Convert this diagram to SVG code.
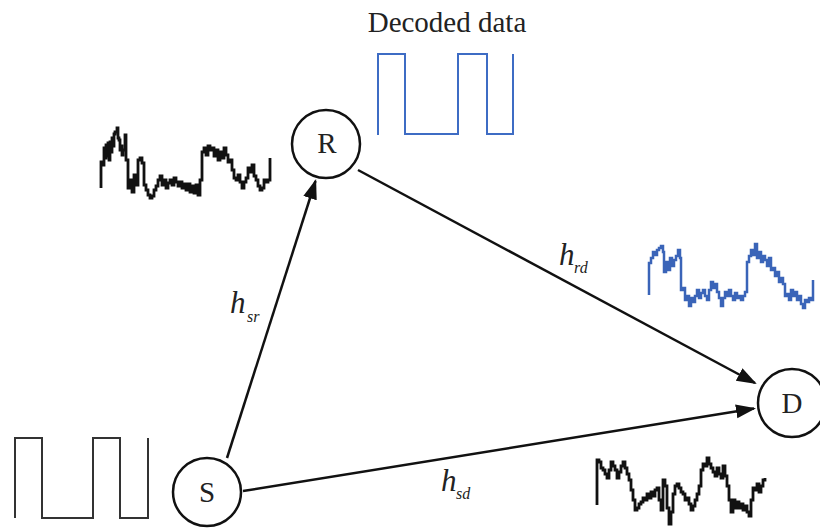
<svg xmlns="http://www.w3.org/2000/svg" width="820" height="529" viewBox="0 0 820 529">
<style>
.node{fill:#fff;stroke:#111;stroke-width:2.5}
.lbl{font-family:"Liberation Serif",serif;font-size:29px;fill:#222;text-anchor:middle}
.conn{stroke:#111;stroke-width:2.5;fill:none}
.h{font-family:"Liberation Serif",serif;font-style:italic;fill:#222}
.wb{fill:none;stroke:#111;stroke-width:2.8;stroke-linejoin:miter}
.wblue{fill:none;stroke:#3a64b8;stroke-width:2.5}
.sq{fill:none;stroke:#333;stroke-width:2}
.sqb{fill:none;stroke:#3e6cc4;stroke-width:2}
</style>
<defs>
<marker id="arr" markerUnits="userSpaceOnUse" markerWidth="22" markerHeight="16" refX="18" refY="7" orient="auto">
<path d="M0,0 L20,7 L0,14 z" fill="#111"/>
</marker>
</defs>
<rect width="820" height="529" fill="#fff"/>

<g id="connectors">
<line class="conn" x1="227" y1="458" x2="315.5" y2="181" marker-end="url(#arr)"/>
<line class="conn" x1="358" y1="170" x2="755" y2="383" marker-end="url(#arr)"/>
<line class="conn" x1="243" y1="491" x2="754" y2="408.5" marker-end="url(#arr)"/>
</g>

<g id="labels">
<text class="h" x="230" y="313" font-size="31">h</text><text class="h" x="247" y="322" font-size="16">sr</text>
<text class="h" x="559" y="265" font-size="31">h</text><text class="h" x="574" y="273" font-size="16">rd</text>
<text class="h" x="441" y="491" font-size="31">h</text><text class="h" x="456" y="499" font-size="16">sd</text>
</g>

<g id="node-R"><circle class="node" cx="326" cy="144" r="34"/><text class="lbl" x="327" y="153">R</text></g>
<g id="node-S"><circle class="node" cx="207" cy="492" r="34"/><text class="lbl" x="207" y="502">S</text></g>
<g id="node-D"><circle class="node" cx="792" cy="403" r="34"/><text class="lbl" x="792" y="413">D</text></g>

<g id="decoded">
<text class="lbl" x="447" y="32" font-size="30">Decoded data</text>
<path class="sqb" d="M378,135 V54 H405 V134 H458 V54 H487 V134 H513 V54"/>
</g>

<g id="source-signal">
<path class="sq" d="M15,518 V438 H42 V518 H93 V438 H120 V518 H148 V438"/>
</g>

<g id="relay-received">
<path class="wb" d="M101,188 V162 H103 V165 H104 V148 H105 V158 H106 V145 H107 V156 H108 V143 H109 V160 H110 V142 H111 V152 H112 V138 H113 V146 H114 V134 H115 V132 H117 V128 H118 V138 H119 V140 H120 V150 H121 V146 H122 V155 H123 V150 H125 V135 H126 V160 H128 V188 H130 V180 H132 V192 H134 V175 H136 V185 H138 V160 H140 V158 H142 V163 H144 V185 H146 V190 H148 V195 H150 V198 H152 V196 H154 V190 H156 V186 H158 V180 H160 V176 H162 V185 H164 V180 H166 V188 H168 V183 H170 V180 H172 V185 H174 V178 H176 V182 H178 V186 H180 V182 H182 V188 H184 V184 H186 V190 H188 V184 H190 V192 H192 V186 H194 V193 H196 V185 H198 V195 H200 V180 H202 V152 H204 V148 H206 V155 H208 V146 H210 V150 H212 V148 H214 V156 H216 V150 H218 V160 H220 V152 H222 V158 H224 V148 H226 V155 H228 V162 H230 V160 H232 V170 H234 V178 H236 V180 H238 V175 H240 V182 H242 V188 H244 V182 H246 V178 H248 V168 H250 V172 H252 V165 H254 V176 H256 V180 H258 V186 H260 V190 H262 V188 H264 V180 H266 V182 H268 V180 H270 V158"/>
</g>

<g id="dest-from-relay">
<path class="wblue" d="M649,295 V263 H651 V258 H653 V252 H655 V255 H657 V250 H659 V248 H661 V246 H663 V252 H664 V272 H666 V262 H668 V270 H670 V258 H672 V266 H674 V260 H676 V256 H678 V250 H680 V258 H681 V290 H683 V288 H685 V300 H687 V296 H689 V306 H691 V298 H693 V302 H695 V296 H697 V290 H699 V298 H701 V293 H703 V290 H705 V296 H707 V300 H709 V290 H711 V282 H713 V288 H715 V284 H717 V292 H719 V298 H721 V306 H723 V298 H725 V292 H727 V296 H729 V290 H731 V296 H733 V300 H735 V293 H737 V298 H739 V296 H741 V300 H743 V296 H745 V292 H747 V262 H749 V256 H751 V250 H753 V255 H755 V244 H757 V258 H759 V252 H761 V262 H763 V256 H765 V260 H767 V266 H769 V258 H771 V270 H773 V268 H775 V276 H777 V272 H779 V282 H781 V278 H783 V284 H785 V296 H787 V294 H789 V300 H791 V290 H793 V296 H795 V292 H797 V300 H799 V296 H801 V304 H803 V308 H805 V300 H807 V302 H809 V298 H811 V300 H813 V280"/>
</g>

<g id="dest-from-source">
<path class="wb" d="M597,505 V460 H599 V462 H601 V468 H603 V470 H605 V474 H607 V478 H609 V470 H611 V462 H613 V466 H615 V470 H617 V478 H619 V472 H621 V466 H623 V462 H625 V468 H627 V474 H629 V480 H631 V490 H633 V500 H635 V510 H637 V508 H639 V504 H641 V502 H643 V498 H645 V500 H647 V494 H649 V498 H651 V492 H653 V496 H655 V490 H657 V488 H659 V500 H661 V510 H663 V480 H665 V486 H667 V508 H669 V524 H671 V512 H673 V494 H675 V486 H677 V484 H679 V488 H681 V492 H683 V494 H685 V500 H687 V498 H689 V504 H691 V510 H693 V506 H695 V500 H697 V494 H699 V486 H701 V470 H703 V464 H705 V466 H707 V458 H709 V464 H711 V468 H713 V472 H715 V476 H717 V468 H719 V474 H721 V478 H723 V466 H725 V476 H727 V486 H729 V500 H731 V512 H733 V500 H735 V508 H737 V502 H739 V508 H741 V504 H743 V510 H745 V506 H747 V512 H749 V516 H751 V500 H753 V488 H755 V490 H757 V484 H759 V492 H761 V486 H763 V480 H765 V478"/>
</g>
</svg>
